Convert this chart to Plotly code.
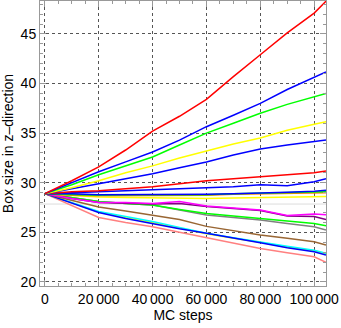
import plotly.graph_objects as go

steps = [0, 10000, 20000, 30000, 40000, 50000, 60000, 70000, 80000, 90000, 100000, 104400]

red_a = [28.9, 30.2, 31.6, 33.3, 35.2, 36.7, 38.4, 40.7, 42.9, 45.1, 47.1, 48.3]
blue_a = [28.9, 30.0, 31.1, 32.1, 33.1, 34.3, 35.65, 36.8, 38.0, 39.4, 40.6, 41.16]
green_a = [28.9, 29.8, 30.8, 31.7, 32.6, 33.8, 35.0, 36.0, 37.0, 37.9, 38.7, 39.0]
yellow_a = [28.9, 29.5, 30.2, 31.0, 31.7, 32.5, 33.2, 33.9, 34.5, 35.3, 35.9, 36.15]
blue_b = [28.9, 29.4, 29.9, 30.4, 30.9, 31.5, 32.1, 32.8, 33.4, 33.8, 34.1, 34.3]
red_b = [28.9, 29.1, 29.2, 29.4, 29.6, 29.9, 30.2, 30.4, 30.6, 30.8, 31.0, 31.18]
blue_c = [28.9, 29.0, 29.1, 29.2, 29.25, 29.35, 29.5, 29.6, 29.8, 29.7, 30.1, 30.4]
blue_d = [28.9, 28.9, 28.8, 28.8, 28.85, 28.8, 28.85, 28.9, 28.95, 29.05, 29.15, 29.25]
green_b = [28.9, 28.8, 28.75, 28.8, 28.8, 28.75, 28.8, 28.9, 28.95, 29.0, 29.05, 29.1]
orange_a = [28.9, 28.75, 28.7, 28.7, 28.75, 28.7, 28.75, 28.85, 28.9, 28.95, 29.0, 29.0]
yellow_b = [28.9, 28.7, 28.55, 28.5, 28.45, 28.4, 28.4, 28.45, 28.5, 28.55, 28.55, 28.6]
magenta_a = [28.9, 28.4, 28.0, 28.0, 27.9, 28.1, 27.65, 27.45, 27.25, 26.7, 26.85, 26.78]
purple_a = [28.9, 28.4, 28.0, 27.95, 27.85, 27.9, 27.6, 27.4, 27.2, 26.65, 26.6, 26.3]
green_c = [28.9, 28.5, 28.1, 27.9, 27.76, 27.3, 26.9, 26.65, 26.4, 26.15, 25.9, 25.67]
gray_a = [28.9, 28.5, 28.1, 27.9, 27.76, 27.25, 26.75, 26.5, 26.24, 25.9, 25.57, 25.23]
brown_a = [28.9, 28.2, 27.55, 27.15, 26.75, 26.3, 25.6, 25.15, 24.73, 24.4, 24.06, 23.72]
cyan_a = [28.9, 28.0, 27.1, 26.6, 26.1, 25.5, 24.9, 24.45, 24.06, 23.6, 23.2, 22.9]
yellow_c = [28.9, 28.0, 27.05, 26.5, 26.0, 25.4, 24.85, 24.4, 24.0, 23.5, 23.15, 22.85]
blue_e = [28.9, 27.95, 27.0, 26.4, 25.85, 25.35, 24.9, 24.45, 23.95, 23.45, 23.05, 22.71]
pink_a = [28.9, 27.7, 26.5, 26.0, 25.57, 25.0, 24.46, 23.9, 23.38, 22.95, 22.54, 21.97]

reference_level = 27.85

x_tickvals = [0, 20000, 40000, 60000, 80000, 100000]
x_ticktext = ["0", "20\u2009000", "40\u2009000", "60\u2009000", "80\u2009000", "100\u2009000"]
y_tickvals = [20, 25, 30, 35, 40, 45]

series = [
    (pink_a, "rgb(255,128,128)"),
    (yellow_c, "rgb(255,255,0)"),
    (cyan_a, "rgb(0,255,255)"),
    (blue_e, "rgb(0,0,255)"),
    (brown_a, "rgb(153,102,51)"),
    (gray_a, "rgb(128,128,128)"),
    (green_c, "rgb(0,255,0)"),
    (purple_a, "rgb(128,0,128)"),
    (magenta_a, "rgb(255,0,255)"),
    (yellow_b, "rgb(255,255,0)"),
    (orange_a, "rgb(255,128,0)"),
    (green_b, "rgb(0,255,0)"),
    (blue_d, "rgb(0,0,255)"),
    (blue_c, "rgb(0,0,255)"),
    (red_b, "rgb(255,0,0)"),
    (blue_b, "rgb(0,0,255)"),
    (yellow_a, "rgb(255,255,0)"),
    (green_a, "rgb(0,255,0)"),
    (blue_a, "rgb(0,0,255)"),
    (red_a, "rgb(255,0,0)"),
]

fig = go.Figure()
fig.add_trace(go.Scatter(x=[-5000, 110000], y=[reference_level, reference_level], mode="lines",
                         line=dict(color="#dcdcdc", width=1), showlegend=False, hoverinfo="skip"))
for vals, col in series:
    fig.add_trace(go.Scatter(x=steps, y=vals, mode="lines", line=dict(color=col, width=1.5),
                             showlegend=False))

font = dict(family="Liberation Sans, Arial, sans-serif", size=14, color="black")

axis_common = dict(
    showline=True, linecolor="#999999", linewidth=1, mirror="ticks",
    ticks="inside", ticklen=6, tickcolor="#999999",
    showgrid=True, gridcolor="#555555", griddash="dot", gridwidth=1,
    zeroline=False, tickfont=font, automargin=False,
)

fig.update_xaxes(range=[-1800, 104400], tickvals=x_tickvals, ticktext=x_ticktext,
                 title=dict(text="MC steps", font=font, standoff=4),
                 minor=dict(ticks="inside", ticklen=3, dtick=5000, tick0=0, tickcolor="#999999", showgrid=False),
                 **axis_common)
fig.update_yaxes(range=[19.59, 48.32], tickvals=y_tickvals,
                 title=dict(text="Box size in z\u2013direction", font=font, standoff=4),
                 minor=dict(ticks="inside", ticklen=3, dtick=1, tick0=0, tickcolor="#999999", showgrid=False),
                 **axis_common)

fig.update_layout(
    width=341, height=328,
    margin=dict(l=40, r=15, t=1, b=42),
    plot_bgcolor="white", paper_bgcolor="white",
    font=font,
)

fig.write_html("out.html", config={"displayModeBar": False},
               post_script="document.body.style.margin='0';document.body.style.overflow='hidden';")
